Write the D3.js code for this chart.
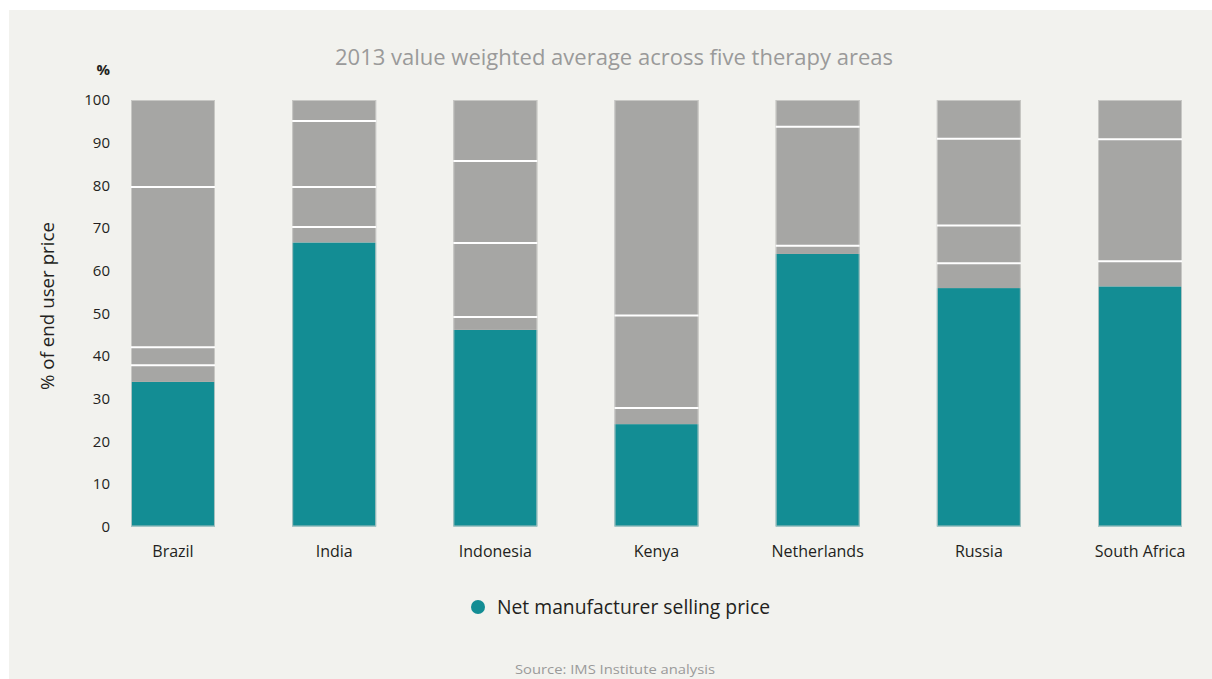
<!DOCTYPE html>
<html>
<head>
<meta charset="utf-8">
<script src="https://cdn.jsdelivr.net/npm/d3@7"></script>
<style>
  html, body { margin: 0; padding: 0; background: #ffffff; }
  svg { display: block; }
  text { font-family: "Open Sans", "Liberation Sans", sans-serif; }
</style>
</head>
<body>
<svg id="chart" width="1212" height="679"></svg>
<script>
// ---- data ----
const categories = ["Brazil", "India", "Indonesia", "Kenya", "Netherlands", "Russia", "South Africa"];
const netManufacturerPrice = [33.9, 66.6, 46.1, 24.0, 63.9, 55.9, 56.3];
const component2 = [3.9, 3.6, 3.0, 3.8, 1.9, 5.8, 5.9];
const component3 = [4.2, 9.4, 17.4, 21.7, 27.9, 8.9, 28.6];
const component4 = [37.6, 15.5, 19.2, 0, 0, 20.3, 0];
const component5 = [20.4, 4.9, 14.3, 50.5, 6.3, 9.1, 9.2];
const yTicks = [0, 10, 20, 30, 40, 50, 60, 70, 80, 90, 100];
const seriesNames = ["Net manufacturer selling price", "c2", "c3", "c4", "c5"];
const legendLabels = ["Net manufacturer selling price"];
const titleText = "2013 value weighted average across five therapy areas";
const yAxisTitle = "% of end user price";
const unitLabel = "%";
const sourceText = "Source: IMS Institute analysis";

// ---- build table ----
const seriesValues = [netManufacturerPrice, component2, component3, component4, component5];
const table = categories.map((c, i) => {
  const row = { category: c };
  seriesNames.forEach((s, k) => { row[s] = seriesValues[k][i]; });
  return row;
});
const stacked = d3.stack().keys(seriesNames)(table);

const svg = d3.select("#chart");
const W = 1212, H = 679;
const TEAL = "#138d94", GRAY = "#a6a6a4", BG = "#f2f2ee", INK = "#231f20";

svg.append("rect").attr("x", 9).attr("y", 10).attr("width", W - 9).attr("height", H - 10).attr("fill", BG);

const x = d3.scaleBand().domain(categories).range([131, 1182]).paddingInner(0.479).paddingOuter(0);
const y = d3.scaleLinear().domain([0, 100]).range([526.5, 100]);

// bars
const layers = svg.append("g").selectAll("g").data(stacked).join("g")
  .attr("fill", (d, k) => k === 0 ? TEAL : GRAY);
layers.selectAll("rect").data(d => d).join("rect")
  .attr("x", d => x(d.data.category))
  .attr("width", x.bandwidth())
  .attr("y", d => y(d[1]))
  .attr("height", d => Math.max(0, y(d[0]) - y(d[1])));

// faint bar outlines
svg.append("g").selectAll("rect").data(table).join("rect")
  .attr("x", d => x(d.category) + 0.5)
  .attr("width", x.bandwidth() - 1)
  .attr("y", y(100) + 0.5)
  .attr("height", y(0) - y(100) - 1)
  .attr("fill", "none")
  .attr("stroke", "#cfcfcc")
  .attr("stroke-width", 1)
  .attr("stroke-opacity", 0.8);

// white separators at the tops of inner gray segments
const sepData = [];
stacked.forEach((layer, k) => {
  if (k === 0 || k === stacked.length - 1) return;
  layer.forEach(d => { if (d[1] - d[0] > 0) sepData.push({ c: d.data.category, v: d[1] }); });
});
svg.append("g").selectAll("line").data(sepData).join("line")
  .attr("x1", d => x(d.c))
  .attr("x2", d => x(d.c) + x.bandwidth())
  .attr("y1", d => y(d.v))
  .attr("y2", d => y(d.v))
  .attr("stroke", "#ffffff")
  .attr("stroke-width", 2);

// y axis
const yAxis = d3.axisLeft(y).tickValues(yTicks).tickSize(0).tickPadding(0);
const gy = svg.append("g").attr("transform", "translate(110,0)").call(yAxis);
gy.select(".domain").remove();
gy.selectAll("text").attr("font-size", 15).attr("fill", INK)
  .style("font-family", "'Open Sans', sans-serif");

// x axis labels
const xAxis = d3.axisBottom(x).tickSize(0).tickPadding(0);
const gx = svg.append("g").attr("transform", "translate(0,546)").call(xAxis);
gx.select(".domain").remove();
gx.selectAll("text").attr("font-size", 16).attr("fill", INK)
  .style("font-family", "'Open Sans', sans-serif");

// unit label
svg.append("text").attr("x", 110).attr("y", 75).attr("text-anchor", "end")
  .attr("font-size", 15).attr("font-weight", "bold").attr("fill", INK).text(unitLabel);

// y title
svg.append("text").attr("transform", "translate(54,306) rotate(-90)")
  .attr("text-anchor", "middle").attr("font-size", 18).attr("fill", INK)
  .attr("textLength", 168).attr("lengthAdjust", "spacingAndGlyphs").text(yAxisTitle);

// title
svg.append("text").attr("x", 614).attr("y", 65).attr("text-anchor", "middle")
  .attr("font-size", 22).attr("fill", "#9a9a9a").text(titleText);

// legend
const lg = svg.append("g").selectAll("g").data(legendLabels).join("g");
lg.append("circle").attr("cx", 478).attr("cy", 607).attr("r", 7).attr("fill", TEAL);
lg.append("text").attr("x", 497).attr("y", 614).attr("font-size", 20).attr("fill", INK)
  .attr("textLength", 273).attr("lengthAdjust", "spacingAndGlyphs").text(d => d);

// source
svg.append("text").attr("x", 615).attr("y", 674).attr("text-anchor", "middle")
  .attr("font-size", 13).attr("fill", "#9a9a9a")
  .attr("textLength", 200).attr("lengthAdjust", "spacingAndGlyphs").text(sourceText);
</script>
</body>
</html>
